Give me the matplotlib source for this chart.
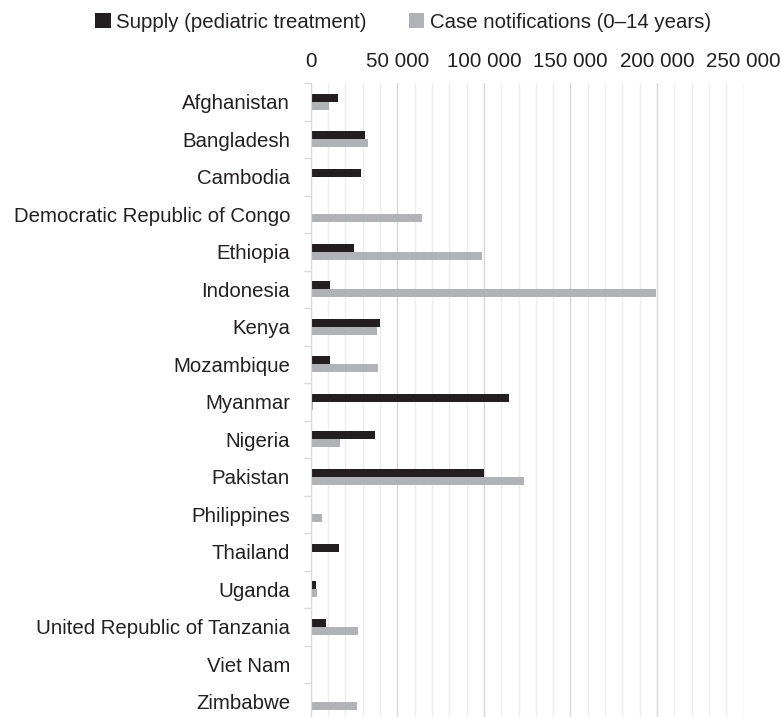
import numpy as np
import matplotlib
matplotlib.use('Agg')
import matplotlib.pyplot as plt
from matplotlib.ticker import FuncFormatter, MultipleLocator

font = {'family': 'Liberation Sans', 'size': 14.7}
matplotlib.rc('font', **font)

countries = ['Afghanistan', 'Bangladesh', 'Cambodia', 'Democratic Republic of Congo',
             'Ethiopia', 'Indonesia', 'Kenya', 'Mozambique', 'Myanmar', 'Nigeria',
             'Pakistan', 'Philippines', 'Thailand', 'Uganda',
             'United Republic of Tanzania', 'Viet Nam', 'Zimbabwe']
supply = [15800, 31200, 28700, 0, 24800, 11300, 40200, 11200, 114600, 37000,
          100200, 0, 16400, 2900, 8700, 0, 0]
cases = [10600, 32900, 0, 64300, 98800, 199600, 38100, 38900, 1000, 17100,
         122900, 6700, 0, 3700, 27500, 0, 26900]

TEXT = '#231f20'
DARK = '#231f20'
GREY = '#b1b2b5'

fig = plt.figure(figsize=(7.81, 7.17), dpi=100, facecolor='white')
ax = fig.add_axes([0.398, -0.005, 0.554, 0.889])

y = np.arange(len(countries))
h = 0.215
ax.barh(y - h / 2, supply, height=h, color=DARK, label='Supply (pediatric treatment)')
ax.barh(y + h / 2, cases, height=h, color=GREY, label='Case notifications (0\u201314 years)')

ax.set_xlim(0, 250000)
ax.set_ylim(len(countries) - 0.5, -0.5)
ax.xaxis.tick_top()
ax.xaxis.set_major_locator(MultipleLocator(50000))
ax.xaxis.set_minor_locator(MultipleLocator(10000))
ax.xaxis.set_major_formatter(FuncFormatter(lambda v, p: f'{int(v):,}'.replace(',', ' ')))
ax.tick_params(axis='x', which='both', length=0, pad=9, colors=TEXT, labelsize=14.8)
ax.grid(axis='x', which='major', color='#d9d9d9', linewidth=1.0)
ax.grid(axis='x', which='minor', color='#eeeeee', linewidth=1.0)
ax.set_axisbelow(True)

ax.set_yticks(y)
ax.set_yticklabels(countries)
ax.set_yticks(np.arange(-0.5, len(countries)), minor=True)
ax.tick_params(axis='y', which='major', length=0, pad=15, colors=TEXT, labelsize=14.7)
ax.tick_params(axis='y', which='minor', length=5, color='#d9d9d9', width=1)

for s in ['top', 'right', 'bottom']:
    ax.spines[s].set_visible(False)
ax.spines['left'].set_color('#d9d9d9')

fig.legend(loc='center', bbox_to_anchor=(0.516, 1 - 22 / 717), ncol=2, frameon=False,
           handlelength=0.75, handleheight=0.75, handletextpad=0.25, columnspacing=2.1,
           fontsize=14.7, labelcolor=TEXT, borderpad=0)

plt.savefig('out.png', dpi=100)
plt.close()
